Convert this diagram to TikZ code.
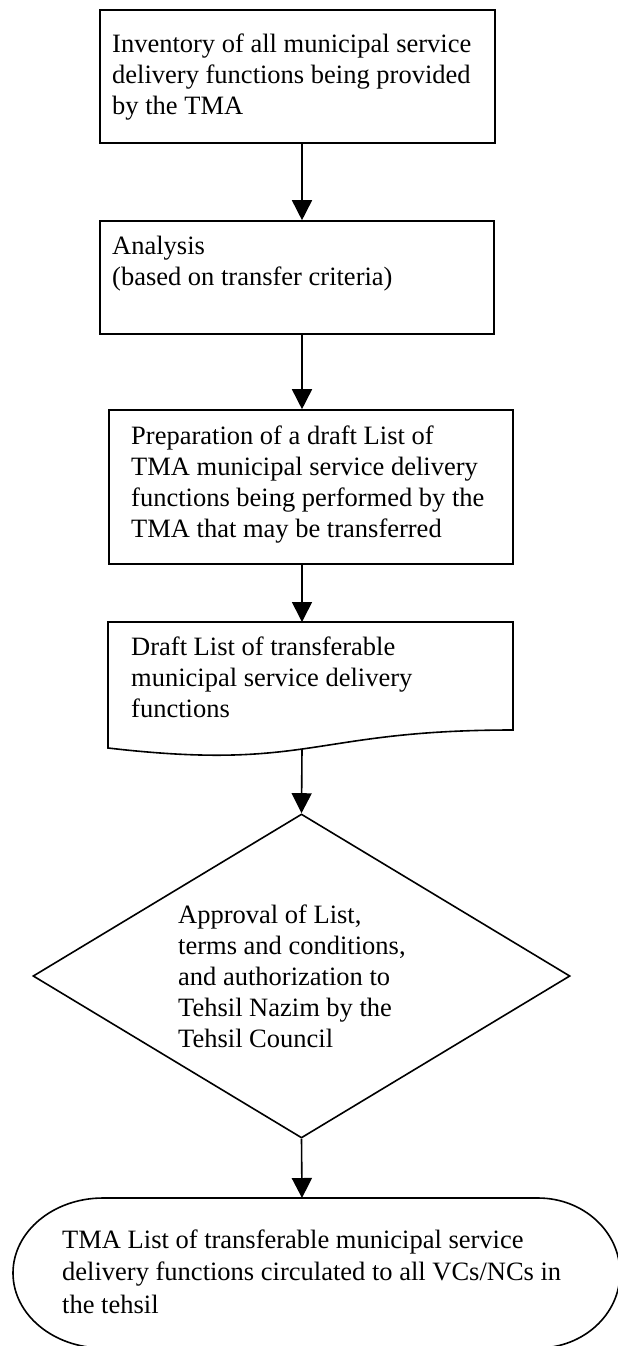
\documentclass[tikz,border=0pt]{standalone}
\usepackage{fontspec}
\setmainfont{Liberation Serif}
\usetikzlibrary{arrows.meta,shapes.geometric}
\tikzset{
  shapeline/.style={draw=black,line width=1.6pt},
  boxnode/.style={shapeline,rectangle,inner sep=0pt},
  txt/.style={anchor=north west,inner sep=0pt,align=left,
    font=\fontsize{26.5}{31}\selectfont},
  arr/.style={line width=1.6pt,-{Triangle[length=20pt,width=20pt]}}
}
\newcommand{\fl}{\rule{0pt}{20pt}}
\begin{document}
\begin{tikzpicture}[x=1pt,y=-1pt]
\useasboundingbox (0,0) rectangle (618,1346);
\coordinate (ax) at (302,0);
% box 1
\node[boxnode,minimum width=395pt,minimum height=133pt] (b1) at (297.5,76.5) {};
\node[txt] (t1) at (112,32) {\fl Inventory of all municipal service\\delivery functions being provided\\by the TMA};
% box 2
\node[boxnode,minimum width=394pt,minimum height=113pt] (b2) at (297,277.5) {};
\node[txt] (t2) at (112,234) {\fl Analysis\\(based on transfer criteria)};
% box 3
\node[boxnode,minimum width=404pt,minimum height=154pt] (b3) at (311,487) {};
\node[txt] (t3) at (131,424) {\fl Preparation of a draft List of\\TMA municipal service delivery\\functions being performed by the\\TMA that may be transferred};
% document
\draw[shapeline,line join=miter] (108,622) -- (513,622) -- (513,730)
  .. controls (310.5,730) and (310.5,771.5) .. (108,748) -- cycle;
\coordinate (doct) at (302,622);
\coordinate (docb) at (302,749);
\node[txt] (t4) at (131,635) {\fl Draft List of transferable\\municipal service delivery\\functions};
% decision
\node[shapeline,diamond,inner sep=0pt,minimum width=537pt,minimum height=324pt] (dec) at (301.5,976) {};
\node[txt] (t5) at (178,903) {\fl Approval of List,\\terms and conditions,\\and authorization to\\Tehsil Nazim by the\\Tehsil Council};
% terminal
\draw[shapeline] (103,1198) -- (538,1198)
  arc[start angle=-90,end angle=90,x radius=82,y radius=75]
  -- (103,1348)
  arc[start angle=90,end angle=270,x radius=90,y radius=75] -- cycle;
\coordinate (term) at (302,1198);
\node[txt,font=\fontsize{26.5}{32.5}\selectfont] (t6) at (62,1228) {\fl TMA List of transferable municipal service\\delivery functions circulated to all VCs/NCs in\\the tehsil};
% connectors
\draw[arr] (b1.south -| ax) -- (b2.north -| ax);
\draw[arr] (b2.south -| ax) -- (b3.north -| ax);
\draw[arr] (b3.south -| ax) -- (doct);
\draw[arr] (docb) -- (dec.north);
\draw[arr] (dec.south) -- (term);
\end{tikzpicture}
\end{document}
